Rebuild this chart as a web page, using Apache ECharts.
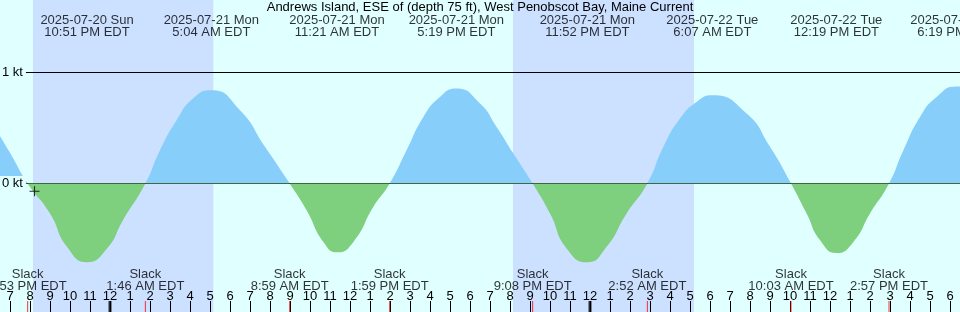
<!DOCTYPE html>
<html>
<head>
<meta charset="utf-8">
<script src="https://cdn.jsdelivr.net/npm/echarts@6/dist/echarts.min.js"></script>
<style>
html, body { margin: 0; padding: 0; background: #e0ffff; }
#chart { width: 960px; height: 312px; }
</style>
</head>
<body>
<div id="chart"></div>
<script>
// all times are hours from 2025-07-21 00:00 EDT
var curveHours = [-5.5, -5.0, -4.117, -3.0, -2.15, -1.15, -0.15, 0.65, 1.767, 2.5, 3.33, 4.15, 5.067,
    6.5, 7.75, 8.983, 9.83, 10.67, 11.35, 12.17, 13.17, 13.983, 14.83, 15.67, 16.5, 17.317,
    18.5, 19.33, 20.17, 21.133, 22.0, 22.83, 23.867, 24.83, 25.83, 26.867, 27.67, 28.5, 29.33, 30.117,
    31.83, 33.0, 34.05, 34.83, 35.5, 36.317, 37.17, 38.0, 38.95, 39.67, 40.5, 41.33, 42.317, 42.5];
var curveKnots = [0.426, 0.276, 0, -0.27, -0.57, -0.71, -0.586, -0.33, 0, 0.30, 0.57, 0.766, 0.84,
    0.66, 0.33, 0, -0.24, -0.526, -0.62, -0.526, -0.21, 0, 0.30, 0.60, 0.78, 0.855,
    0.72, 0.51, 0.27, 0, -0.27, -0.585, -0.71, -0.57, -0.27, 0, 0.33, 0.585, 0.735, 0.795,
    0.63, 0.33, 0, -0.27, -0.51, -0.627, -0.526, -0.27, 0, 0.30, 0.60, 0.78, 0.875, 0.875];

var maxHours = [-7.6, -1.15, 5.067, 11.35, 17.317, 23.867, 30.117, 36.317, 42.317];
var maxDates = ['2025-07-20 Sun', '2025-07-20 Sun', '2025-07-21 Mon', '2025-07-21 Mon', '2025-07-21 Mon',
    '2025-07-21 Mon', '2025-07-22 Tue', '2025-07-22 Tue', '2025-07-22 Tue'];
var maxTimes = ['4:24 PM EDT', '10:51 PM EDT', '5:04 AM EDT', '11:21 AM EDT', '5:19 PM EDT',
    '11:52 PM EDT', '6:07 AM EDT', '12:19 PM EDT', '6:19 PM EDT'];

var slackHours = [-4.117, 1.767, 8.983, 13.983, 21.133, 26.867, 34.05, 38.95];
var slackTimes = ['7:53 PM EDT', '1:46 AM EDT', '8:59 AM EDT', '1:59 PM EDT', '9:08 PM EDT',
    '2:52 AM EDT', '10:03 AM EDT', '2:57 PM EDT'];

var nightSpans = [[-3.85, 5.165], [20.15, 29.2]];
var hourTicks = [];
for (var h = -5; h <= 42; h++) hourTicks.push(h);
var midnights = [0, 24];
var nowMark = [-3.775, -0.07];
var levels = [0, 1];

var title = 'Andrews Island, ESE of (depth 75 ft), West Penobscot Bay, Maine Current';
var FONT = 'Liberation Sans';
var FLOOD = '#87cefa', EBB = '#7ecf7e';
var Y_MIN = -1.1577, Y_MAX = 1.6532;

var chart = echarts.init(document.getElementById('chart'));

function hourLabel(v) {
    var hod = ((Math.round(v) % 24) + 24) % 24;
    return String(hod % 12 === 0 ? 12 : hod % 12);
}

// hard split of the fill colour at the 0 kt level
var zeroAt = Y_MAX / (Y_MAX - Y_MIN);
var fillGradient = new echarts.graphic.LinearGradient(0, 0, 0, 312, [
    { offset: 0, color: FLOOD }, { offset: zeroAt, color: FLOOD },
    { offset: zeroAt, color: EBB }, { offset: 1, color: EBB }
], true);

var option = {
    backgroundColor: '#e0ffff',
    animation: false,
    textStyle: { fontFamily: FONT },
    title: {
        text: title, left: 'center', top: 0, padding: 0,
        textStyle: { fontFamily: FONT, fontSize: 13, fontWeight: 'normal', color: '#000', lineHeight: 14 }
    },
    grid: { left: 0, right: 0, top: 0, bottom: 0, outerBoundsMode: 'none', containLabel: false },
    xAxis: {
        type: 'value', min: -5.5, max: 42.5, z: 10,
        axisLine: { show: false, onZero: false },
        splitLine: { show: false },
        axisTick: { show: true, inside: true, length: 11, customValues: hourTicks, lineStyle: { color: '#000', width: 1 } },
        axisLabel: { show: true, inside: true, margin: 9, customValues: hourTicks, formatter: hourLabel,
            fontFamily: FONT, fontSize: 13, color: '#000' }
    },
    yAxis: [{
        type: 'value', min: Y_MIN, max: Y_MAX, z: 10,
        axisLine: { show: false, onZero: false },
        splitLine: { show: false },
        axisTick: { show: false },
        axisLabel: { show: true, inside: true, margin: 0, customValues: levels,
            formatter: function (v) { return v + ' kt'; },
            fontFamily: FONT, fontSize: 13, color: '#000',
            backgroundColor: '#e0ffff', padding: [1, 3, 1, 2] }
    }, {
        type: 'value', min: 0, max: 312, inverse: true, show: false
    }],
    series: [{
        type: 'line',
        data: curveHours.map(function (t, i) { return [t, curveKnots[i]]; }),
        smooth: 0.55,
        showSymbol: false,
        lineStyle: { width: 0 },
        areaStyle: { opacity: 1, color: fillGradient },
        z: 3,
        markArea: {
            silent: true, z: 1,
            itemStyle: { color: '#cce0ff' },
            data: nightSpans.map(function (s) { return [{ xAxis: s[0] }, { xAxis: s[1] }]; })
        },
        markLine: {
            silent: true, z: 2, symbol: 'none',
            label: { show: false },
            lineStyle: { color: '#000', width: 1, type: 'solid' },
            data: levels.map(function (v) { return { yAxis: v }; })
        }
    }, {
        // event labels at top
        type: 'scatter', yAxisIndex: 1, symbolSize: 0, z: 6,
        data: maxHours.map(function (t, i) { return { value: [t, 26.5], date: maxDates[i], time: maxTimes[i] }; }),
        label: {
            show: true, position: 'inside', color: '#000', fontFamily: FONT, fontSize: 13, lineHeight: 12,
            formatter: function (p) { return p.data.date + '\n' + p.data.time; }
        }
    }, {
        // slack labels at bottom
        type: 'scatter', yAxisIndex: 1, symbolSize: 0, z: 6,
        data: slackHours.map(function (t, i) { return { value: [t, 280], time: slackTimes[i] }; }),
        label: {
            show: true, position: 'inside', color: '#000', fontFamily: FONT, fontSize: 13, lineHeight: 12,
            formatter: function (p) { return 'Slack\n' + p.data.time; }
        }
    }, {
        // slack ticks
        type: 'scatter', yAxisIndex: 1, symbol: 'rect', symbolSize: [1, 11], z: 11,
        itemStyle: { color: '#ff0000' },
        data: slackHours.map(function (t) { return [t, 306.5]; })
    }, {
        // midnight ticks
        type: 'scatter', yAxisIndex: 1, symbol: 'rect', symbolSize: [3, 11], z: 11,
        itemStyle: { color: '#000' },
        data: midnights.map(function (t) { return [t, 306.5]; })
    }, {
        type: 'scatter', symbol: 'path://M4,0h1v9h-1z M0,4h9v1h-9z', symbolSize: 10, z: 6,
        itemStyle: { color: '#000' },
        data: [nowMark]
    }]
};
chart.setOption(option);
</script>
</body>
</html>
